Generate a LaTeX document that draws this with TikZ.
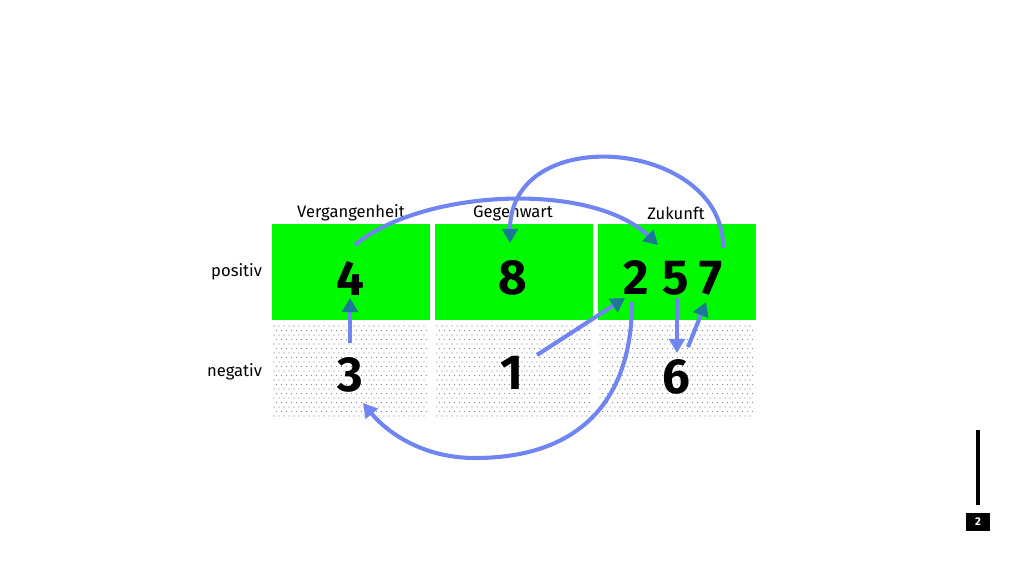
\documentclass[tikz,border=0pt]{standalone}
\usepackage{fontspec}
\setmainfont{Fira Sans}
\usetikzlibrary{calc,arrows.meta}

\definecolor{cellgreen}{RGB}{0,248,0}
\definecolor{arrowblue}{RGB}{112,132,242}
\definecolor{headteal}{RGB}{28,120,150}
\definecolor{dotgray}{RGB}{135,135,135}

\tikzset{
  greencell/.style={rectangle,fill=cellgreen,minimum width=3.95cm,minimum height=2.4cm,inner sep=0pt},
  dotcell/.style={rectangle,fill=white,minimum width=3.95cm,minimum height=2.4cm,inner sep=0pt},
  heading/.style={font=\fontsize{11.8}{13}\selectfont},
  rowlabel/.style={font=\fontsize{11.8}{13}\selectfont,anchor=east},
  digit/.style={font=\fontsize{35}{35}\selectfont\bfseries,inner sep=0pt},
  flow/.style={draw=arrowblue,line width=2.9pt,-{Triangle[length=10pt,width=11pt,color=headteal]}},
  flowb/.style={draw=arrowblue,line width=2.9pt,-{Triangle[length=10pt,width=11pt,color=arrowblue]}}
}

\begin{document}
\begin{tikzpicture}[x=0.025cm,y=-0.025cm]
\useasboundingbox (0,0) rectangle (1024,576);

% the table
\node[greencell] (posV) at (351,272) {};
\node[greencell] (posG) at (514,272) {};
\node[greencell] (posZ) at (677,272) {};
\node[dotcell] (negV) at (351,370) {};
\node[dotcell] (negG) at (514,370) {};
\node[dotcell] (negZ) at (677,370) {};
\foreach \cx in {272,435,598} {
  \foreach \i in {0,...,30} {
    \foreach \j in {0,...,20} {
      \fill[dotgray] ({\cx+2+5*\i+2.5*mod(\j,2)},{326+4.5*\j}) circle (0.7);
    }
  }
}

\node[heading] (vergangenheit) at (351,213) {Vergangenheit};
\node[heading] (gegenwart) at (513,213) {Gegenwart};
\node[heading] (zukunft) at (676,213) {Zukunft};
\node[rowlabel] (positiv) at (267,272) {positiv};
\node[rowlabel] (negativ) at (267,372) {negativ};

% the numbers
\node[digit] (n4) at (350,278) {4};
\node[digit] (n8) at (513,278) {8};
\node[digit] (n2) at (636,278) {2};
\node[digit] (n5) at (676,278) {5};
\node[digit] (n7) at (711,278) {7};
\node[digit] (n3) at (350,375) {3};
\node[digit] (n1) at (512,373) {1};
\node[digit] (n6) at (676,377) {6};

% the arrows
\draw[flow] ($(n4)+(5,-33)$) .. controls (420,190) and (590,180) .. ($(n2)+(22,-33)$);
\draw[flow] ($(n7)+(12,-30)$) .. controls (725,140) and (510,120) .. ($(n8)+(-3,-35)$);
\draw[flow] ($(n1)+(25,-18)$) -- ($(n2)+(-11,20)$);
\draw[flowb] ($(n2)+(-4,24)$) .. controls (632,400) and (580,458) .. (475,458)
  .. controls (420,458) and (385,430) .. ($(n3)+(13,28)$);
\draw[flow] ($(n3)+(0,-32)$) -- ($(n4)+(0,20)$);
\draw[flowb] ($(n5)+(1,20)$) -- ($(n6)+(1,-24)$);
\draw[flow] ($(n6)+(12,-30)$) -- ($(n7)+(-5,24)$);

% page number
\node[fill=black,text=white,font=\fontsize{8}{8}\selectfont\bfseries,minimum width=0.58cm,minimum height=0.45cm,inner sep=0pt] (pagenum) at (978,522) {2};
\coordinate (bartop) at (978,430);
\draw[line width=3.2pt] (bartop) -- ($(pagenum.north)+(0,-8)$);

\end{tikzpicture}
\end{document}
